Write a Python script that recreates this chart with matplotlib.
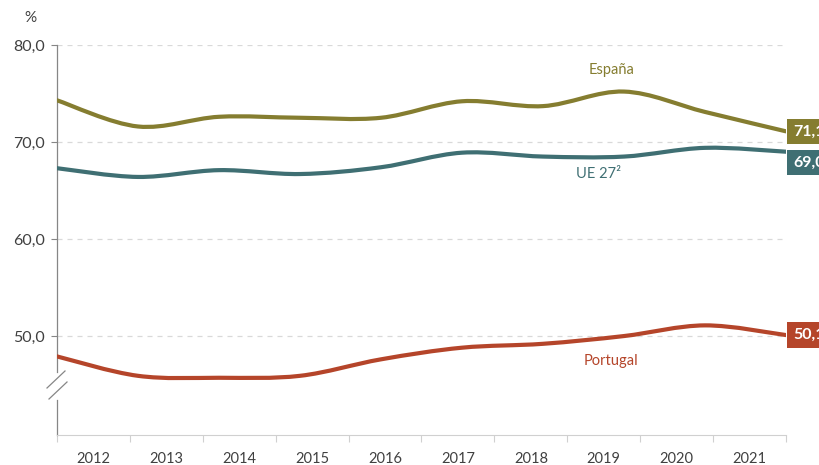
import numpy as np
import matplotlib
matplotlib.use("Agg")
import matplotlib.pyplot as plt
from matplotlib.path import Path
from matplotlib.patches import PathPatch
from matplotlib.lines import Line2D

plt.rcParams["font.family"] = ["Lato", "DejaVu Sans"]

# Datos
years = ["2012", "2013", "2014", "2015", "2016", "2017", "2018", "2019", "2020", "2021"]
espana = [74.3, 71.6, 72.6, 72.5, 72.5, 74.2, 73.7, 75.2, 73.1, 71.1]
ue27 = [67.3, 66.4, 67.1, 66.7, 67.4, 68.9, 68.5, 68.5, 69.4, 69.0]
portugal = [47.9, 45.9, 45.7, 45.9, 47.6, 48.8, 49.2, 50.0, 51.1, 50.1]
y_ticks = [50, 60, 70, 80]

C_ESP = "#857D30"
C_UE = "#3F6F73"
C_POR = "#B5452A"
TXT = "#404040"


def smooth_path(x, y):
    """Curva suavizada tipo Excel (Catmull-Rom -> Bezier cúbico)."""
    p = np.column_stack([x, y]).astype(float)
    ext = np.vstack([p[0], p, p[-1]])
    verts = [p[0]]
    codes = [Path.MOVETO]
    for i in range(len(p) - 1):
        p0, p1, p2, p3 = ext[i], ext[i + 1], ext[i + 2], ext[i + 3]
        c1 = p1 + (p2 - p0) / 6
        c2 = p2 - (p3 - p1) / 6
        verts += [c1, c2, p2]
        codes += [Path.CURVE4] * 3
    return Path(verts, codes)


fig = plt.figure(figsize=(8.19, 4.65), dpi=100)
ax = fig.add_axes([57 / 819, 1 - 435 / 465, 729 / 819, 390 / 465])

xs = np.arange(len(years))
for vals, col in [(espana, C_ESP), (ue27, C_UE), (portugal, C_POR)]:
    ax.add_patch(PathPatch(smooth_path(xs, vals), facecolor="none", edgecolor=col,
                           linewidth=3, capstyle="round", joinstyle="round", zorder=3))

ax.set_xlim(0, len(years) - 1)
ax.set_ylim(39.8, 80)

# Rejilla
ax.set_yticks(y_ticks)
ax.set_yticklabels([f"{v:.1f}".replace(".", ",") for v in y_ticks], fontsize=11.5, color=TXT)
ax.grid(axis="y", color="#d9d9d9", linestyle=(0, (4, 4)), linewidth=0.9)
ax.tick_params(axis="y", length=4, color="#868686", pad=5)

# Eje X: marcas entre categorías, etiquetas centradas
step = (len(years) - 1) / len(years)
ax.set_xticks([step * k for k in range(len(years) + 1)])
ax.set_xticklabels([])
ax.set_xticks([step * (k + 0.5) for k in range(len(years))], minor=True)
ax.set_xticklabels(years, minor=True, fontsize=10.5, color=TXT)
ax.tick_params(axis="x", which="major", length=5, color="#d0d0d0")
ax.tick_params(axis="x", which="minor", length=0, pad=12)

for s in ["top", "right", "left"]:
    ax.spines[s].set_visible(False)
ax.spines["bottom"].set_color("#d0d0d0")

# Eje Y con corte
ax.plot([0, 0], [1, 0.1615], transform=ax.transAxes, color="#868686", lw=0.9, clip_on=False)
ax.plot([0, 0], [0.09, 0], transform=ax.transAxes, color="#868686", lw=0.9, clip_on=False)
for (x0, y0, x1, y1) in [(47, 388, 65, 371), (49, 399, 67, 382)]:
    fig.add_artist(Line2D([x0 / 819, x1 / 819], [1 - y0 / 465, 1 - y1 / 465],
                          color="#868686", lw=0.9))

fig.text(30 / 819, 1 - 18 / 465, "%", fontsize=11, color=TXT, ha="center", va="center")

# Nombres de series
ax.text(6.85, 77.4, "España", color=C_ESP, fontsize=10.5, ha="center", va="center")
ax.text(6.68, 66.7, "UE 27²", color=C_UE, fontsize=10.5, ha="center", va="center")
ax.text(6.84, 47.4, "Portugal", color=C_POR, fontsize=10.5, ha="center", va="center")

# Etiquetas del último valor
for vals, col, dy in [(espana, C_ESP, 0), (ue27, C_UE, -8), (portugal, C_POR, 0)]:
    ax.annotate(f"{vals[-1]:.1f}".replace(".", ","), xy=(xs[-1], vals[-1]),
                xytext=(5, dy), textcoords="offset points", ha="left", va="center",
                color="white", fontsize=11.5, fontweight="bold", annotation_clip=False,
                bbox=dict(boxstyle="square,pad=0.35", facecolor=col, edgecolor="none"),
                zorder=5)

fig.savefig("out.png", dpi=100)
